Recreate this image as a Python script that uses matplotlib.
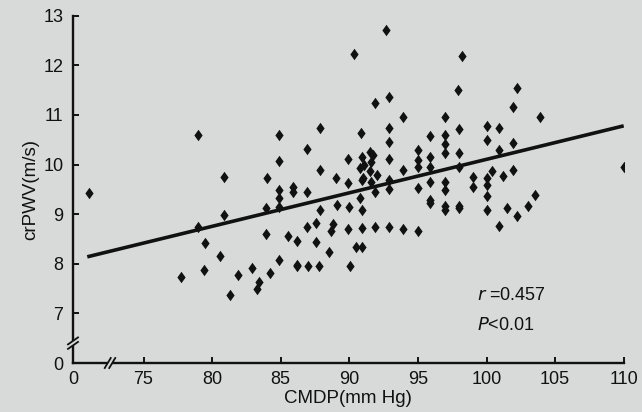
import matplotlib
matplotlib.use("Agg")
import matplotlib.pyplot as plt
from matplotlib.path import Path

plt.rcParams['font.family'] = ['Liberation Sans', 'DejaVu Sans']

# ---- data ----
cmdp = [71.0, 79.0, 77.7, 79.0, 79.5, 79.4, 80.9, 80.9, 80.6, 81.3,
        81.9, 82.9, 83.3, 83.4, 84.9, 84.9, 84.0, 84.9, 84.9, 85.9,
        85.9, 83.9, 84.9, 83.9, 85.5, 86.2, 84.9, 86.2, 84.2,
        87.9, 86.9, 89.9, 87.9, 89.0, 86.9, 89.9, 90.9, 90.85, 91.9,
        92.7, 90.35, 98.2, 92.9, 97.95, 102.2, 101.9, 103.9, 93.9, 97.0,
        92.9, 95.9, 97.0, 98.0, 100.0, 100.9, 100.0, 101.9, 92.9, 97.0,
        97.0, 92.9, 95.0, 95.0, 95.0, 95.9, 95.9, 98.0, 98.0, 100.9,
        101.9, 93.9, 95.0, 95.9, 97.0, 99.0, 99.0, 100.0, 100.4, 101.2,
        92.9, 92.9, 103.5, 103.0, 110.0, 100.0, 100.0, 101.5, 95.9, 97.0,
        100.0, 102.2, 100.9, 98.0, 97.0, 95.9, 97.0, 98.0, 92.9, 93.9,
        95.0, 89.1, 90.0, 90.9, 87.9, 86.9, 87.6, 88.8, 88.7, 89.9,
        90.9, 91.9, 87.6, 88.5, 90.5, 90.9, 86.2, 87.0, 87.8, 90.05,
        91.5, 91.7, 90.9, 91.1, 91.6, 90.8, 91.5, 92.0, 91.0, 91.6,
        91.9, 90.8]
crpwv = [9.43, 10.6, 7.74, 8.75, 8.42, 7.87, 8.98, 9.75, 8.16, 7.37,
         7.77, 7.91, 7.5, 7.63, 10.6, 10.08, 9.72, 9.49, 9.32, 9.55,
         9.45, 9.12, 9.15, 8.6, 8.56, 8.46, 8.07, 7.97, 7.81,
         10.73, 10.31, 10.12, 9.89, 9.72, 9.45, 9.62, 9.69, 10.63, 11.24,
         12.71, 12.22, 12.19, 11.37, 11.5, 11.54, 11.15, 10.96, 10.96, 10.95,
         10.74, 10.57, 10.6, 10.72, 10.77, 10.74, 10.5, 10.43, 10.45, 10.42,
         10.23, 10.12, 10.29, 10.1, 9.96, 10.15, 9.96, 10.23, 9.96, 10.29,
         9.9, 9.89, 9.53, 9.65, 9.65, 9.74, 9.55, 9.72, 9.86, 9.76,
         9.69, 9.5, 9.38, 9.17, 9.96, 9.59, 9.37, 9.13, 9.28, 9.49,
         9.08, 8.97, 8.76, 9.16, 9.16, 9.23, 9.08, 9.12, 8.75, 8.71,
         8.66, 9.18, 9.15, 9.08, 9.08, 8.75, 8.83, 8.81, 8.67, 8.71,
         8.73, 8.75, 8.44, 8.24, 8.34, 8.34, 7.95, 7.95, 7.95, 7.95,
         10.25, 10.19, 10.15, 10.0, 10.05, 9.93, 9.86, 9.79, 9.73, 9.65,
         9.45, 9.32]

fit_x = [70.9, 110.0]
fit_y = [8.14, 10.78]

x_ticks = [69.86, 75, 80, 85, 90, 95, 100, 105, 110]
x_ticklabels = ['0', '75', '80', '85', '90', '95', '100', '105', '110']
y_ticks = [6.0, 7, 8, 9, 10, 11, 12, 13]
y_ticklabels = ['0', '7', '8', '9', '10', '11', '12', '13']

stats_r = "0.457"
stats_p = "0.01"

BG = '#d8d9d9'
INK = '#111111'

fig = plt.figure(figsize=(6.42, 4.12), dpi=100, facecolor=BG)
ax = fig.add_axes([73/642, 49/412, 550.7/642, 347.3/412])
ax.set_facecolor(BG)

diamond = Path([(0, 1), (0.72, 0), (0, -1), (-0.72, 0), (0, 1)],
               [Path.MOVETO, Path.LINETO, Path.LINETO, Path.LINETO, Path.CLOSEPOLY])
ax.scatter(cmdp, crpwv, marker=diamond, s=68, color=INK, linewidths=0, zorder=3)
ax.plot(fit_x, fit_y, color=INK, lw=2.6, zorder=2, solid_capstyle='butt')

ax.set_xlim(x_ticks[0], 110)
ax.set_ylim(y_ticks[0], 13)
ax.set_xticks(x_ticks)
ax.set_xticklabels(x_ticklabels)
ax.set_yticks(y_ticks)
ax.set_yticklabels(y_ticklabels)

for s in ['top', 'right']:
    ax.spines[s].set_visible(False)
for s in ['left', 'bottom']:
    ax.spines[s].set_linewidth(1.7)
    ax.spines[s].set_color(INK)
ax.tick_params(direction='in', length=4, width=1.4, colors=INK,
               labelsize=13, pad=6)
ax.tick_params(axis='y', pad=7)

ax.set_xlabel('CMDP(mm Hg)', fontsize=13.5, color=INK, labelpad=1)
ax.set_ylabel('crPWV(m/s)', fontsize=13.5, color=INK, labelpad=3)

# axis breaks
W, H = 550.7, 347.3
# y-axis break
yb = (6.4 - 6.0) / 7.0
gap = 4.5 / H
ax.fill([-4/W, 4/W, 4/W, -4/W], [yb - gap/2 - 3/H, yb - gap/2 + 3/H, yb + gap/2 + 3/H, yb + gap/2 - 3/H],
        transform=ax.transAxes, color=BG, clip_on=False, zorder=5, lw=0)
for off in (-gap/2, gap/2):
    ax.plot([-5/W, 5/W], [yb + off - 3.5/H, yb + off + 3.5/H], transform=ax.transAxes,
            color=INK, lw=1.3, clip_on=False, zorder=6)
# x-axis break
xb = (110 - 73) / W
gapx = 4.5 / W
ax.fill([xb - gapx/2 - 3/W, xb - gapx/2 + 3/W, xb + gapx/2 + 3/W, xb + gapx/2 - 3/W],
        [-4/H, 4/H, 4/H, -4/H], transform=ax.transAxes, color=BG, clip_on=False, zorder=5, lw=0)
for off in (-gapx/2, gapx/2):
    ax.plot([xb + off - 3/W, xb + off + 3/W], [-5/H, 5/H], transform=ax.transAxes,
            color=INK, lw=1.3, clip_on=False, zorder=6)

ax.text(99.3, 7.37, r'$\mathit{r}$' + ' =' + stats_r, fontsize=13, color=INK, va='center', ha='left')
ax.text(99.3, 6.76, r'$\mathit{P}$' + '<' + stats_p, fontsize=13, color=INK, va='center', ha='left')

fig.savefig('out.png', dpi=100, facecolor=BG)
